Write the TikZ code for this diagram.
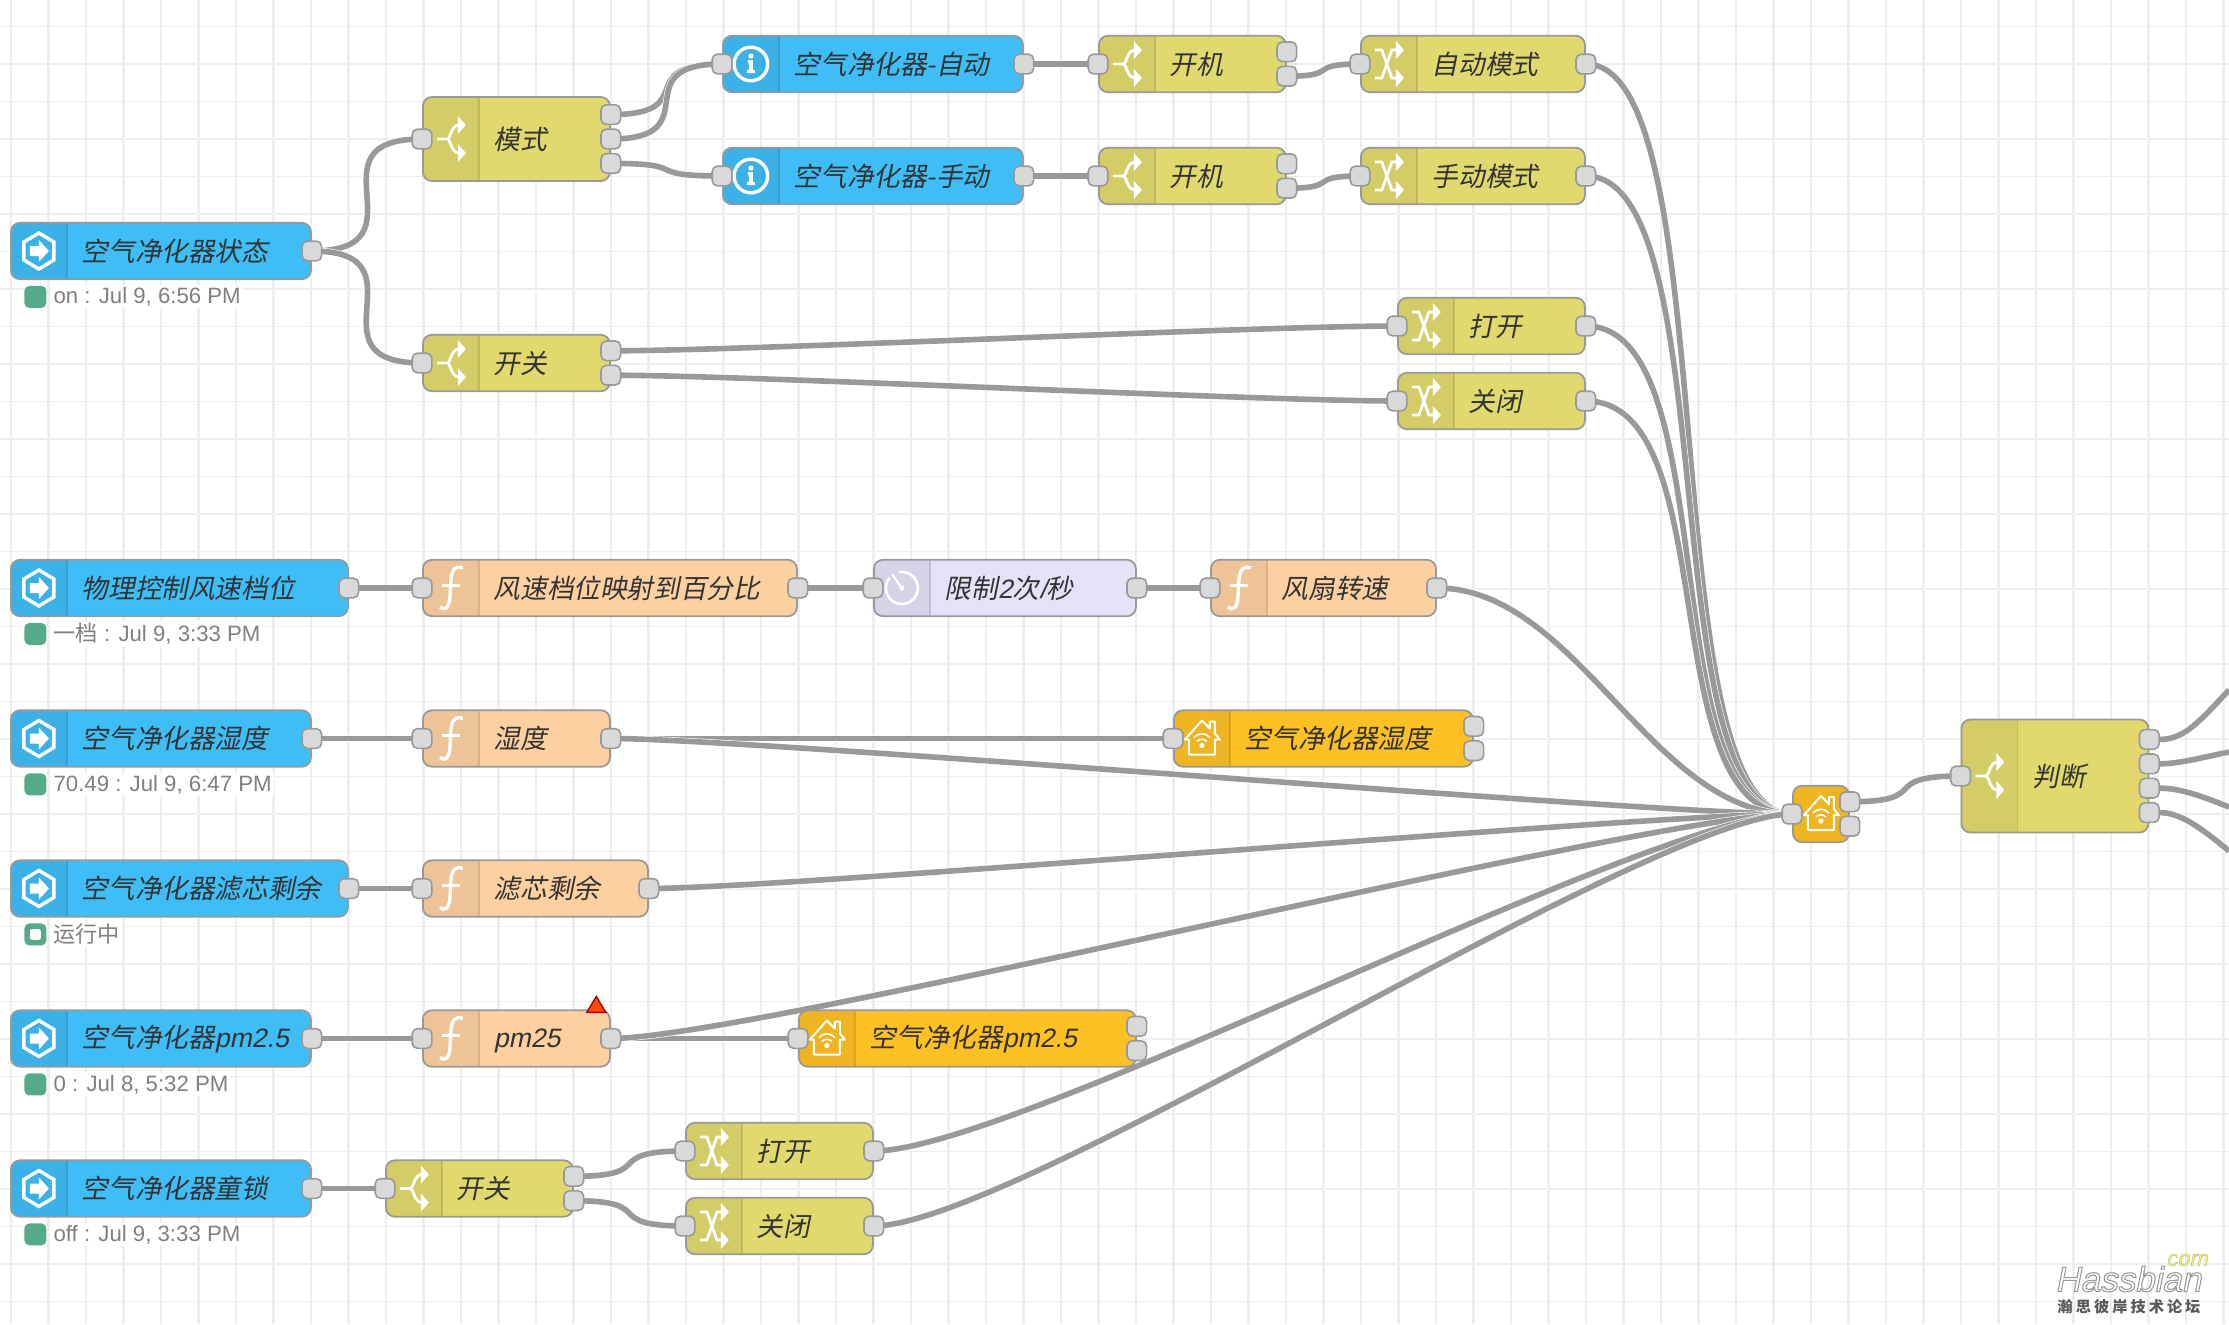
\documentclass[tikz,border=0pt]{standalone}
\usepackage{fontspec}
\setmainfont{Liberation Sans}
\usetikzlibrary{calc, positioning}
\newfontfamily\cjk{Noto Sans CJK SC}
\newfontfamily\flowlabel[FakeSlant=0.2]{Noto Sans CJK SC}
\newfontfamily\flowlatin[FakeSlant=0.2]{Liberation Sans}
\newfontfamily\markfont[FakeSlant=0.2, FakeBold=3]{Liberation Sans}
\newfontfamily\markdot[FakeSlant=0.2, FakeBold=1.2]{Liberation Sans}
\definecolor{gridGray}{HTML}{EEEEEE}
\definecolor{wireGray}{HTML}{999999}
\definecolor{portGray}{HTML}{D9D9D9}
\definecolor{injectBlue}{HTML}{3FBDF7}
\definecolor{swYellow}{HTML}{E2D96E}
\definecolor{funcOrange}{HTML}{FDD0A2}
\definecolor{delayPurple}{HTML}{E6E0F8}
\definecolor{homeOrange}{HTML}{FDC025}
\definecolor{statGreen}{HTML}{55AA88}
\definecolor{markYellow}{HTML}{F6F46A}
\pgfdeclarelayer{wires}
\pgfsetlayers{wires,main}
\newcommand{\wire}[2]{\draw[wire] let \p1=(#1), \p2=(#2), \n1={min(70.3pt,0.75*veclen(\x2-\x1,\y2-\y1))} in (\p1) .. controls +(\n1,0) and +(-\n1,0) .. (\p2);}
\newcommand{\lat}[1]{{\flowlatin #1}}
\newcommand{\outlined}[1]{\special{pdf:code 0.6 0.6 0.6 RG}#1}
\tikzset{
    iconline/.style={draw=white, line width=1.4pt, fill=none},
    swicon/.pic={
        \draw[iconline] (-14,0) -- (-4,0) .. controls (0,0) and (0,-14) .. (8,-14);
        \draw[iconline] (-4,0) .. controls (0,0) and (0,14) .. (8,14);
        \fill[white] (7,-23) -- (15,-14) -- (7,-5) -- cycle;
        \fill[white] (7,23) -- (15,14) -- (7,5) -- cycle;
    },
    chgicon/.pic={
        \draw[iconline] (-14,-14) -- (-7,-14) -- (3,14) -- (8,14);
        \draw[iconline] (-14,14) -- (-7,14) -- (3,-14) -- (8,-14);
        \fill[white] (7,-23) -- (15,-14) -- (7,-5) -- cycle;
        \fill[white] (7,23) -- (15,14) -- (7,5) -- cycle;
    },
    funcicon/.pic={
        \draw[iconline, line width=1.7pt] (12,-20) .. controls (4,-23) and (1,-18) .. (0,-8) -- (-1,10) .. controls (-2,20) and (-6,23) .. (-11,19);
        \draw[iconline, line width=1.5pt] (-9,-3) -- (9,-3);
    },
    hexicon/.pic={
        \draw[iconline, line width=1.7pt] (0,-18) -- (15,-9) -- (15,9) -- (0,18) -- (-15,9) -- (-15,-9) -- cycle;
        \fill[white] (-9,-5) -- (0,-5) -- (0,-11) -- (10,0) -- (0,11) -- (0,5) -- (-9,5) -- cycle;
    },
    infoicon/.pic={
        \draw[iconline, line width=1.7pt] (0,0) circle (8.4pt);
        \fill[white] (0,-8) circle (1.3pt);
        \fill[white] (-3,-4) -- (2,-4) -- (2,6) -- (4,6) -- (4,9) -- (-4,9) -- (-4,6) -- (-2,6) -- (-2,-1) -- (-3,-1) -- cycle;
    },
    homeicon/.pic={
        \draw[iconline, line width=1pt, line join=round] (-17,1) -- (0,-18) -- (8,-10) -- (8,-17) -- (13,-17) -- (13,-5) -- (18,1) -- (13,1) -- (13,16) -- (-13,16) -- (-13,1) -- cycle;
        \draw[iconline, line width=.8pt] (-8,-1) .. controls (-3,-6) and (3,-6) .. (8,-1);
        \draw[iconline, line width=.8pt] (-5,3) .. controls (-2,0) and (2,0) .. (5,3);
        \fill[white] (0,7) circle (1.3pt);
    },
    clockicon/.pic={
        \draw[iconline, line width=1.3pt] (-2.8,-15.8) arc (100:-220:8pt);
        \draw[iconline, line width=1.1pt] (-10,-14) -- (0,0);
        \fill[white] (0,0) circle (1.3pt);
    },
    box/.style n args={2}{draw=wireGray, fill=#1, rounded corners=4.5pt, line width=0.9pt, anchor=west, minimum height=28.2pt, inner ysep=0pt, align=left, text=black!80, font=\flowlabel\fontsize{13.3}{16}\selectfont,
        path picture={
            \fill[black, opacity=0.06, sharp corners] (path picture bounding box.north west) rectangle ([xshift=28pt]path picture bounding box.south west);
            \draw[black, opacity=0.12, line width=0.8pt] ([xshift=28pt]path picture bounding box.north west) -- ([xshift=28pt]path picture bounding box.south west);
            \pic[sharp corners] at ([xshift=14pt]path picture bounding box.west) {#2};
        }},
    wd/.style={text width={(#1-143)*0.5pt}, inner xsep=35.5pt},
    ht/.style={minimum height=#1*0.5pt},
    inject/.style={box={injectBlue}{hexicon}},
    infonode/.style={box={injectBlue}{infoicon}},
    swnode/.style={box={swYellow}{swicon}},
    chg/.style={box={swYellow}{chgicon}},
    func/.style={box={funcOrange}{funcicon}},
    limiter/.style={box={delayPurple}{clockicon}},
    home/.style={box={homeOrange}{homeicon}},
    port/.style={draw=wireGray, fill=portGray, rounded corners=2.6pt, line width=0.8pt, minimum size=9.8pt, inner sep=0pt},
    wire/.style={draw=wireGray, line width=2.8pt, preaction={draw=white, line width=3.4pt}},
    statdot/.style={fill=statGreen, rounded corners=2.5pt, minimum size=11pt, inner sep=0pt},
    stattext/.style={text=gray, fill=white, font=\fontsize{11.1}{12}\selectfont, inner xsep=1pt, inner ysep=1pt}
}
\begin{document}
\begin{tikzpicture}[x=0.5pt, y=-0.5pt]
    \useasboundingbox (0,0) rectangle (2229,1324);

    % grid
    \begin{pgfonlayer}{wires}
    \foreach \i in {0,...,59}
        \draw[gridGray, line width=0.75pt] ({11+37.5*\i},0) -- ({11+37.5*\i},1324);
    \foreach \i in {0,...,35}
        \draw[gridGray, line width=0.75pt] (0,{26.5+37.5*\i}) -- (2229,{26.5+37.5*\i});
    \foreach \i in {0,...,29}
        \draw[gridGray, line width=1.3pt] ({48.5+75*\i},0) -- ({48.5+75*\i},1324);
    \foreach \i in {0,...,17}
        \draw[gridGray, line width=1.3pt] (0,{64+75*\i}) -- (2229,{64+75*\i});
    \end{pgfonlayer}

    % state group
    \node[inject, wd=301] (status) at (10,251) {\mbox{空气净化器状态}};
    \node[swnode, wd=188, ht=84] (mode) at (422,139) {模式};
    \node[infonode, wd=301] (info1) at (722,64) {\mbox{空气净化器-自动}};
    \node[infonode, wd=301] (info2) at (722,176) {\mbox{空气净化器-手动}};
    \node[swnode, wd=188] (on1) at (1098,64) {开机};
    \node[swnode, wd=188] (on2) at (1098,176) {开机};
    \node[chg, wd=225] (auto) at (1360,64) {\mbox{自动模式}};
    \node[chg, wd=225] (manual) at (1360,176) {\mbox{手动模式}};
    \node[swnode, wd=188] (power) at (422,363) {开关};
    \node[chg, wd=188] (open) at (1397,326) {打开};
    \node[chg, wd=188] (close) at (1397,401) {关闭};

    % fan speed
    \node[inject, wd=338] (speed) at (10,588) {\mbox{物理控制风速档位}};
    \node[func, wd=375] (map) at (422,588) {\mbox{风速档位映射到百分比}};
    \node[limiter, wd=263] (limit) at (873,588) {\mbox{限制\lat{2}次\lat{/}秒}};
    \node[func, wd=226] (fan) at (1210,588) {\mbox{风扇转速}};

    % sensors
    \node[inject, wd=301] (hum) at (10,738.5) {\mbox{空气净化器湿度}};
    \node[func, wd=188] (humf) at (422,738.5) {湿度};
    \node[home, wd=300] (humha) at (1173,738.5) {\mbox{空气净化器湿度}};
    \node[inject, wd=338] (filter) at (10,888.5) {\mbox{空气净化器滤芯剩余}};
    \node[func, wd=226] (filterf) at (422,888.5) {\mbox{滤芯剩余}};
    \node[inject, wd=301] (pm) at (10,1038.5) {\mbox{空气净化器\lat{pm2.5}}};
    \node[func, wd=188] (pmf) at (422,1038.5) {\vphantom{空}\lat{pm25}};
    \node[home, wd=338] (pmha) at (798,1038.5) {\mbox{空气净化器\lat{pm2.5}}};
    \draw[draw=black!30!red, fill=orange!60!red, line width=0.7pt] ([xshift=-12pt,yshift=-1.5pt]pmf.north east) -- ++(9.5,-16) -- ++(9.5,16) -- cycle;

    % child lock
    \node[inject, wd=301] (lock) at (10,1188.5) {\mbox{空气净化器童锁}};
    \node[swnode, wd=188] (locksw) at (385,1188.5) {开关};
    \node[chg, wd=188] (lockon) at (685,1151) {打开};
    \node[chg, wd=188] (lockoff) at (685,1226) {关闭};

    % merge
    \node[home, text width=0pt, inner xsep=14pt] (ha) at (1792,814) {};
    \node[swnode, wd=188, ht=113] (judge) at (1960.5,776) {判断};

    % ports
    \foreach \n in {mode,info1,info2,on1,on2,auto,manual,power,open,close,map,limit,fan,humf,humha,filterf,pmf,pmha,locksw,lockon,lockoff,ha,judge}
        \node[port] (\n-i) at (\n.west) {};
    \foreach \n in {status,info1,info2,auto,manual,open,close,speed,map,limit,fan,hum,humf,filter,filterf,pm,pmf,lock,lockon,lockoff}
        \node[port] (\n-o) at (\n.east) {};
    \foreach \n/\k in {mode/3,on1/2,on2/2,power/2,humha/2,pmha/2,locksw/2,ha/2,judge/4}
        \foreach \i in {1,...,\k}
            \node[port] (\n-\i) at ($(\n.east)+(0,{(\i-(\k+1)/2)*24.4})$) {};

    % status
    \foreach \n/\t in {status/{on : Jul 9, 6:56 PM},speed/{{\cjk 一档} : Jul 9, 3:33 PM},hum/{70.49 : Jul 9, 6:47 PM},pm/{0 : Jul 8, 5:32 PM},lock/{off : Jul 9, 3:33 PM}} {
        \node[statdot, below right=2.7pt and 7pt of \n.south west] (\n-d) {};
        \node[stattext, right=2.2pt of \n-d] (\n-t) {\t};
    }
    \node[statdot, below right=2.7pt and 7pt of filter.south west] (filter-d) {};
    \node[fill=white, minimum size=5.4pt, inner sep=0pt, rounded corners=1pt] (filter-h) at (filter-d) {};
    \node[stattext, right=2.2pt of filter-d] (filter-t) {\cjk 运行中};

    % off page ends
    \coordinate (out1) at (2229,690);
    \coordinate (out2) at (2229,752);
    \coordinate (out3) at (2229,807);
    \coordinate (out4) at (2229,851);

    \begin{pgfonlayer}{wires}
    \foreach \a/\b in {status-o/mode-i,status-o/power-i,mode-1/info1-i,mode-2/info1-i,mode-3/info2-i,info1-o/on1-i,info2-o/on2-i,on1-2/auto-i,on2-2/manual-i,power-1/open-i,power-2/close-i,auto-o/ha-i,manual-o/ha-i,open-o/ha-i,close-o/ha-i}
        \wire{\a}{\b}
    \foreach \a/\b in {speed-o/map-i,map-o/limit-i,limit-o/fan-i,fan-o/ha-i,hum-o/humf-i,humf-o/humha-i,humf-o/ha-i,filter-o/filterf-i,filterf-o/ha-i,pm-o/pmf-i,pmf-o/pmha-i,pmf-o/ha-i,lock-o/locksw-i,locksw-1/lockon-i,locksw-2/lockoff-i,lockon-o/ha-i,lockoff-o/ha-i,ha-1/judge-i}
        \wire{\a}{\b}
    \draw[wire] (judge-1) .. controls +(35,0) and +(-30,32) .. (out1);
    \draw[wire] (judge-2) .. controls +(30,0) and +(-25,5) .. (out2);
    \draw[wire] (judge-3) .. controls +(30,0) and +(-30,-12) .. (out3);
    \draw[wire] (judge-4) .. controls +(30,0) and +(-30,-25) .. (out4);
    \end{pgfonlayer}

    % watermark
    \node[font=\markfont\fontsize{17.5}{18}\selectfont, text=white] (mark-a) at (2128,1279) {\outlined{Hassbian}};
    \node[font=\markdot\fontsize{11}{12}\selectfont, text=markYellow] (mark-b) at (2187,1260) {\outlined{com}};
    \node[font=\cjk\bfseries\fontsize{7.6}{8}\selectfont, text=black!65] (mark-c) at (2129,1307) {\addfontfeature{LetterSpace=20}瀚思彼岸技术论坛};
\end{tikzpicture}
\end{document}
